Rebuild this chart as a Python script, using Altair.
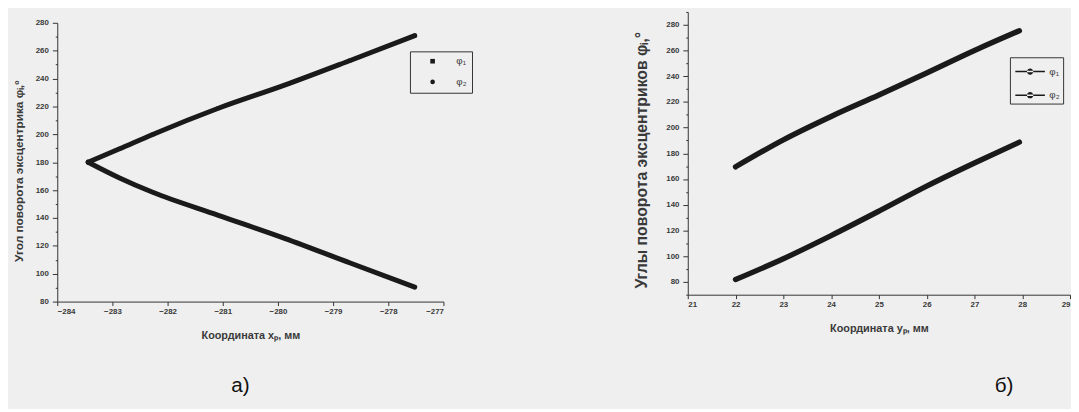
import altair as alt
import pandas as pd

# ---------- data: panel а) ----------
a_x = [-283.44, -282.87, -282.27, -281.08, -279.88, -278.69, -277.52]
a_phi1 = [180.0, 189.6, 199.9, 218.7, 235.3, 253.0, 270.8]
a_phi2 = [180.0, 168.7, 158.4, 141.9, 125.4, 107.7, 90.4]

# ---------- data: panel б) ----------
b_y = [22, 23, 24, 25, 26, 27, 27.94]
b_phi1 = [169.5, 190.5, 208.7, 225.4, 242.5, 260.0, 275.4]
b_phi2 = [81.8, 98.0, 116.0, 135.0, 154.5, 172.5, 188.7]

series = ["φ₁", "φ₂"]

a_xticks = [-284 + 0.5 * i for i in range(15)]
a_yticks = list(range(80, 281, 10))
b_xticks = [21 + 0.5 * i for i in range(17)]
b_yticks = list(range(70, 291, 10))

df_a = pd.DataFrame({
    "x": a_x + a_x,
    "phi": a_phi1 + a_phi2,
    "s": [series[0]] * len(a_phi1) + [series[1]] * len(a_phi2),
})
df_b = pd.DataFrame({
    "y": b_y + b_y,
    "phi": b_phi1 + b_phi2,
    "sb": [series[0]] * len(b_phi1) + [series[1]] * len(b_phi2),
})

FONT = "Liberation Sans"
INK = "#1a1a1a"
TXT = "#3a3a3a"

major20 = "datum.value % 20 === 0 && datum.value >= 80 && datum.value <= 280"
major1 = "datum.value % 1 === 0"


def axis(values, major_test, title, title_size, title_pad, tick=4, lpad=2, **kw):
    return alt.Axis(
        values=values,
        format="d",
        labelExpr=f"{major_test} ? datum.label : ''",
        labelFontSize={"condition": {"test": major_test, "value": 8}, "value": 0},
        tickSize={"condition": {"test": major_test, "value": tick}, "value": 2},
        labelOverlap=False,
        grid=False,
        domainColor="#333",
        tickColor="#333",
        labelColor=TXT,
        labelFont=FONT,
        labelFontWeight="bold",
        labelPadding=lpad,
        title=title,
        titleFont=FONT,
        titleFontSize=title_size,
        titleFontWeight="bold",
        titleColor=TXT,
        titlePadding=title_pad,
        **kw,
    )


# ---------- panel а) ----------
xa = alt.X("x:Q", scale=alt.Scale(domain=[-284, -277], nice=False, zero=False),
           axis=axis(a_xticks, major1, "Координата xₚ, мм", 11, 14))
ya = alt.Y("phi:Q", scale=alt.Scale(domain=[80, 280], nice=False, zero=False),
           axis=axis(a_yticks, major20, "Угол поворота эксцентрика φᵢ,°", 12, 10,
                     tick=5, lpad=4, titleY=150))

line_a = alt.Chart(df_a).mark_line(strokeWidth=5, strokeCap="round", strokeJoin="round",
                                   interpolate="monotone", color=INK).encode(
    x=xa, y=ya, detail="s:N"
)
pts_a = alt.Chart(df_a).mark_point(filled=True, size=14, color=INK, opacity=1).encode(
    x=xa, y=ya,
    shape=alt.Shape("s:N", scale=alt.Scale(domain=series, range=["square", "circle"]),
                    legend=alt.Legend(title=None, orient="none", legendX=358, legendY=40,
                                      strokeColor="#333", padding=5, rowPadding=9,
                                      symbolOffset=13,
                                      symbolSize=22, symbolFillColor=INK, symbolStrokeColor=INK,
                                      labelFont=FONT, labelFontSize=10, labelColor=TXT,
                                      labelOffset=19)),
)
panel_a = alt.layer(line_a, pts_a).properties(
    width=392, height=283,
    title=alt.TitleParams("а)", orient="bottom", fontSize=21, font=FONT, fontWeight="normal",
                          color="#111", dx=-10, offset=36),
)

spacer = alt.Chart(pd.DataFrame({"v": [0]})).mark_rule(opacity=0).encode(
    x=alt.value(0), y=alt.value(0), y2=alt.value(1)
).properties(width=392, height=7)

# ---------- panel б) ----------
xb = alt.X("y:Q", scale=alt.Scale(domain=[21, 29], nice=False, zero=False),
           axis=axis(b_xticks, major1, "Координата yₚ, мм", 11, 14))
yb = alt.Y("phi:Q", scale=alt.Scale(domain=[70, 290], nice=False, zero=False),
           axis=axis(b_yticks, major20, "Углы поворота эксцентриков φᵢ,°", 16, 17,
                     tick=5, lpad=4, titleY=150))

line_b = alt.Chart(df_b).mark_line(strokeWidth=5.5, strokeCap="round", strokeJoin="round",
                                   interpolate="monotone", color=INK).encode(
    x=xb, y=yb, detail="sb:N"
)
sym = "M-1.4,-0.07H1.4V0.07H-1.4Z M-0.3,0 a0.3,0.3 0 1,0 0.6,0 a0.3,0.3 0 1,0 -0.6,0Z"
pts_b = alt.Chart(df_b).mark_point(filled=True, size=14, opacity=1).encode(
    x=xb, y=yb,
    color=alt.Color("sb:N", scale=alt.Scale(domain=series, range=[INK, INK]),
                    legend=alt.Legend(title=None, orient="none", legendX=327, legendY=46,
                                      strokeColor="#333", padding=3, rowPadding=7,
                                      symbolOffset=6,
                                      symbolType=sym, symbolSize=460,
                                      labelFont=FONT, labelFontSize=10, labelColor=TXT,
                                      labelOffset=8)),
)
panel_b = alt.layer(line_b, pts_b).properties(
    width=388, height=287,
    title=alt.TitleParams("б)", orient="bottom", fontSize=21, font=FONT, fontWeight="normal",
                          color="#111", dx=127, offset=43),
)

chart = alt.hconcat(
    alt.vconcat(spacer, panel_a, spacing=0),
    panel_b,
    spacing=162,
).resolve_legend(shape="independent", color="independent").properties(
    padding={"left": 4, "top": 0, "right": 0, "bottom": 10},
    background="#efefef",
).configure_view(stroke=None)

chart.save("out.html", embed_options={"renderer": "svg", "actions": False})
